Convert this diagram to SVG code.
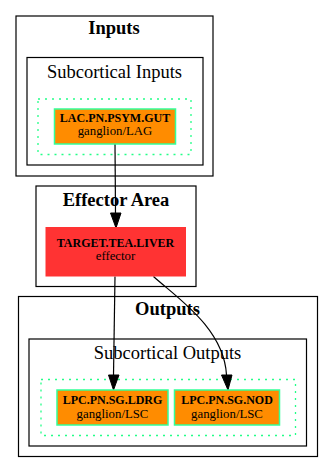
<svg xmlns="http://www.w3.org/2000/svg" width="333" height="473" viewBox="0 0 333 473">
  <defs>
    <style>
      .cluster { fill: none; stroke: #000; stroke-width: 1.2; }
      .group { fill: none; stroke: #22ff88; stroke-width: 1.3; stroke-dasharray: 2 5; }
      .gang { fill: #ff8c00; stroke: #33ff99; stroke-width: 1.5; }
      .eff { fill: #ff3333; stroke: #ff3333; }
      .title { font-family: "Liberation Serif", "Times New Roman", serif; font-weight: bold; font-size: 18.5px; text-anchor: middle; fill: #000; }
      .sub { font-family: "Liberation Serif", "Times New Roman", serif; font-size: 18.5px; text-anchor: middle; fill: #000; }
      .name { font-family: "Liberation Serif", "Times New Roman", serif; font-weight: bold; font-size: 12px; text-anchor: middle; fill: #000; }
      .kind { font-family: "Liberation Serif", "Times New Roman", serif; font-size: 12.8px; text-anchor: middle; fill: #000; }
      .edge { fill: none; stroke: #000; stroke-width: 1.2; }
      .head { fill: #000; stroke: #000; stroke-width: 1; }
    </style>
  </defs>

  <rect width="333" height="473" fill="#fff"/>

  <!-- Inputs cluster -->
  <g id="cluster_inputs">
    <rect class="cluster" x="16" y="16" width="197" height="160"/>
    <text class="title" x="114" y="33.5">Inputs</text>
    <rect class="cluster" x="27" y="57.5" width="176" height="107.5"/>
    <text class="sub" x="114.5" y="77.5">Subcortical Inputs</text>
    <rect class="group" x="38" y="99" width="153" height="55.5"/>
  </g>

  <!-- Effector cluster -->
  <g id="cluster_effector">
    <rect class="cluster" x="36" y="186" width="160" height="100.5"/>
    <text class="title" x="116" y="206">Effector Area</text>
  </g>

  <!-- Outputs cluster -->
  <g id="cluster_outputs">
    <rect class="cluster" x="18.5" y="296.5" width="299" height="160"/>
    <text class="title" x="167.5" y="315">Outputs</text>
    <rect class="cluster" x="29" y="339" width="277.5" height="107"/>
    <text class="sub" x="167.5" y="358.5">Subcortical Outputs</text>
    <rect class="group" x="41" y="379.5" width="254.5" height="56"/>
  </g>

  <!-- connectors -->
  <g id="connectors">
    <path class="edge" d="M115,144 L115.5,213"/>
    <polygon class="head" points="110.5,213 121,213 116,228"/>
    <path class="edge" d="M115,276.5 L113.5,375"/>
    <polygon class="head" points="108.5,375 119,375 113.5,390"/>
    <path class="edge" d="M153.5,276.5 C176,297 224,328 226.5,375"/>
    <polygon class="head" points="221.5,375 232,375 228,390"/>
  </g>

  <!-- nodes -->
  <g id="LAC.PN.PSYM.GUT">
    <rect class="gang" x="54.5" y="109" width="121" height="35"/>
    <text class="name" x="115" y="121.5">LAC.PN.PSYM.GUT</text>
    <text class="kind" x="115" y="135">ganglion/LAG</text>
  </g>

  <g id="TARGET.TEA.LIVER">
    <rect class="eff" x="46" y="227.5" width="139.5" height="48.5"/>
    <text class="name" x="115.5" y="246.5">TARGET.TEA.LIVER</text>
    <text class="kind" x="115.5" y="260">effector</text>
  </g>

  <g id="LPC.PN.SG.LDRG">
    <rect class="gang" x="57" y="390" width="111" height="35"/>
    <text class="name" x="112.5" y="403.5">LPC.PN.SG.LDRG</text>
    <text class="kind" x="112.5" y="417.5">ganglion/LSC</text>
  </g>

  <g id="LPC.PN.SG.NOD">
    <rect class="gang" x="174.5" y="390" width="105" height="35"/>
    <text class="name" x="227" y="403.5">LPC.PN.SG.NOD</text>
    <text class="kind" x="227" y="417.5">ganglion/LSC</text>
  </g>
</svg>
